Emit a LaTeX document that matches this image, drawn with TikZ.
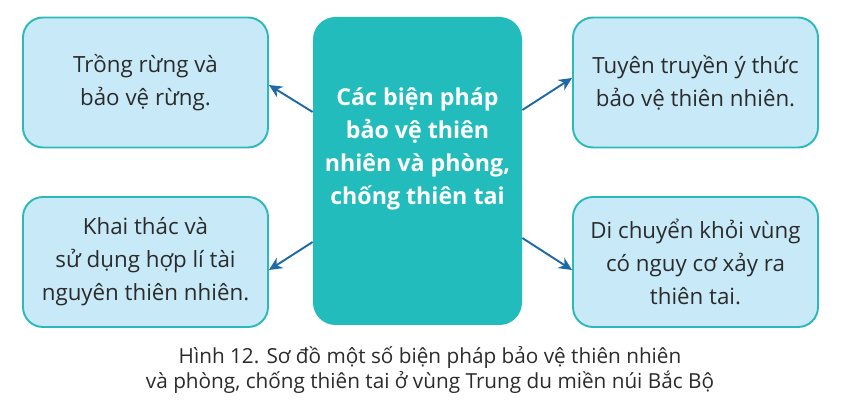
\documentclass[tikz,border=0pt]{standalone}
\usepackage{fontspec}
\setmainfont{Open Sans}
\usetikzlibrary{arrows.meta}

\definecolor{nenhop}{HTML}{C8EAF8}
\definecolor{vienhop}{HTML}{2DB9B9}
\definecolor{nentam}{HTML}{22BCBC}
\definecolor{muiten}{HTML}{1D6AA6}
\definecolor{chu}{HTML}{2B2B2B}

\begin{document}
\begin{tikzpicture}[
    hop/.style={rectangle, rounded corners=0.4cm, draw=vienhop, line width=1.1pt, fill=nenhop,
        minimum width=4.9cm, minimum height=2.6cm, align=center, text=chu,
        font=\fontsize{12.7}{18.8}\selectfont},
    noi/.style={draw=muiten, line width=1.1pt, -{Stealth[length=7.5pt, width=7pt]}}
  ]
    \useasboundingbox (0, 0) rectangle (17.28, -8.38);

    % hop o giua
    \node[rectangle, rounded corners=0.45cm, fill=nentam, minimum width=4.18cm, minimum height=6.16cm] (tam) at (8.35, -3.42) {};
    \node[align=center, text=white, font=\bfseries\fontsize{13.2}{18.8}\selectfont] (tam_chu) at (8.35, -2.98)
        {Các biện pháp\\bảo vệ thiên\\nhiên và phòng,\\chống thiên tai};

    % bon hop xung quanh
    \node[hop] (trong_rung) at (2.91, -1.65) {Trồng rừng và\\bảo vệ rừng.};
    \node[hop] (khai_thac) at (2.91, -5.24) {Khai thác và\\sử dụng hợp lí tài\\nguyên thiên nhiên.};
    \node[hop] (tuyen_truyen) at (13.91, -1.65) {Tuyên truyền ý thức\\bảo vệ thiên nhiên.};
    \node[hop] (di_chuyen) at (13.91, -5.24) {Di chuyển khỏi vùng\\có nguy cơ xảy ra\\thiên tai.};

    \draw[noi] ([yshift=1.18cm]tam.west) -- ([yshift=-0.05cm]trong_rung.east);
    \draw[noi] ([yshift=-1.42cm]tam.west) -- ([yshift=-0.16cm]khai_thac.east);
    \draw[noi] ([yshift=1.22cm]tam.east) -- ([yshift=0.09cm]tuyen_truyen.west);
    \draw[noi] ([yshift=-1.34cm]tam.east) -- ([yshift=-0.16cm]di_chuyen.west);

    \node[align=center, text=chu, font=\fontsize{11.8}{14.6}\selectfont] (chu_thich) at (8.6, -7.4)
        {Hình 12. Sơ đồ một số biện pháp bảo vệ thiên nhiên\\và phòng, chống thiên tai ở vùng Trung du miền núi Bắc Bộ};
  \end{tikzpicture}
\end{document}
